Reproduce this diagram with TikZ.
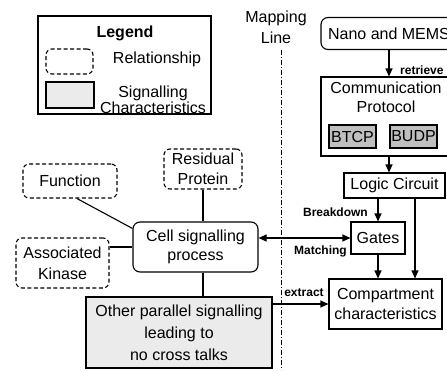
\documentclass[tikz,border=0pt]{standalone}
\usepackage{fontspec}
\setmainfont{Liberation Sans}
\usetikzlibrary{arrows.meta,calc}
\definecolor{lightfill}{HTML}{EBEBEB}
\definecolor{darkfill}{HTML}{BFBFBF}
\begin{document}
\begin{tikzpicture}[x=1pt,y=-1pt,
  every node/.style={font=\fontsize{16}{19}\selectfont, inner sep=0pt, align=center},
  sized/.style 2 args={minimum width=#1pt, minimum height=#2pt},
  plainbox/.style={draw, line width=1.1pt},
  roundbox/.style={draw, line width=1.1pt, rounded corners=7pt},
  relbox/.style={draw, line width=1.1pt, rounded corners=6pt, dash pattern=on 4pt off 2.5pt},
  sigbox/.style={draw, line width=1.1pt, fill=lightfill},
  protobox/.style={draw, line width=1.1pt, fill=darkfill},
  lab/.style={font=\fontsize{12}{14}\selectfont\bfseries},
  conn/.style={line width=1.1pt},
  arr/.style={line width=1.1pt, -{Triangle[length=8pt,width=7pt]}},
  darr/.style={line width=1.1pt, {Triangle[length=8pt,width=7pt]}-{Triangle[length=8pt,width=7pt]}},
  mapstyle/.style={line width=1pt, dash pattern=on 5pt off 2pt on 1pt off 2pt}
]
\useasboundingbox (0,0) rectangle (447,370);
\clip (0,0) rectangle (447,370);

% Legend
\node[plainbox, sized={173}{98}] (legend) at (124.5,65) {};
\node[font=\fontsize{16}{19}\selectfont\bfseries] (legtitle) at (125,33) {Legend};
\node[relbox, sized={47}{25}] (legrel) at (69.5,61.5) {};
\node (legreltext) at (157,59) {Relationship};
\node[sigbox, sized={48}{26}] (legsig) at (70,95) {};
\node[font=\fontsize{16}{16}\selectfont] (legsigtext) at (153,100) {Signalling\\Characteristics};

% Mapping line
\node[font=\fontsize{16}{21}\selectfont] (maplabel) at (276,27.5) {Mapping\\Line};
\coordinate (maptop) at (281,50);
\coordinate (mapbot) at (281,370);
\draw[mapstyle] (maptop) -- (mapbot);

% Right column
\node[roundbox, sized={136}{32}] (nano) at (389,33.5) {Nano and MEMS};
\node[plainbox, sized={130}{79}] (comm) at (386,116.5) {};
\node (commtext) at (386,97.5) {Communication\\Protocol};
\node[protobox, sized={47}{23}] (btcp) at (352.5,136.5) {BTCP};
\node[protobox, sized={47}{23}] (budp) at (413.5,136.5) {BUDP};
\node[plainbox, sized={101}{25}] (logic) at (394.5,185.5) {Logic Circuit};
\node[plainbox, sized={54}{32}] (gates) at (378,238) {Gates};
\node[plainbox, sized={113}{50}, font=\fontsize{16}{20}\selectfont] (comp) at (385.5,304) {Compartment\\characteristics};

% Left side
\node[roundbox, sized={125}{50}] (cell) at (195.5,247) {Cell signalling\\process};
\node[relbox, sized={78}{40}, font=\fontsize{16}{20}\selectfont] (residual) at (203,169) {Residual\\Protein};
\node[relbox, sized={94}{34}] (function) at (70,181) {Function};
\node[relbox, sized={93}{50}, font=\fontsize{16}{21}\selectfont] (assoc) at (62.5,263) {Associated\\Kinase};
\node[sigbox, sized={186}{71}, font=\fontsize{16}{22}\selectfont] (other) at (179,332.5) {Other parallel signalling\\leading to\\no cross talks};

% Connectors right
\draw[arr] (nano.south) -- (nano.south |- comm.north);
\node[lab, anchor=west] (retrieve) at (400,70) {retrieve};
\draw[arr] (comm.south -| nano.south) -- (logic.north -| nano.south);
\draw[arr] (logic.south -| gates.north) -- (gates.north);
\node[lab, anchor=east] (breakdown) at (368,212) {Breakdown};
\draw[arr] (gates.south) -- (gates.south |- comp.north);
\coordinate (logicright) at ($(logic.south)+(20.5,0)$);
\draw[arr] (logicright) -- (logicright |- comp.north);
\draw[darr] (gates.west -| cell.east) -- (gates.west);
\node[lab, anchor=east] (matching) at (347,251) {Matching};
\draw[arr] (other.east |- comp.west) -- (comp.west);
\node[lab] (extract) at (304,293) {extract};

% Connectors left
\draw[conn] ($(function.south)+(7,0)$) -- ($(cell.north west)+(0,7)$);
\draw[conn] (residual.south) -- (residual.south |- cell.north);
\draw[conn] (cell.west) -- (cell.west -| assoc.east);
\draw[conn] (cell.south -| residual.south) -- (other.north -| residual.south);
\end{tikzpicture}
\end{document}
